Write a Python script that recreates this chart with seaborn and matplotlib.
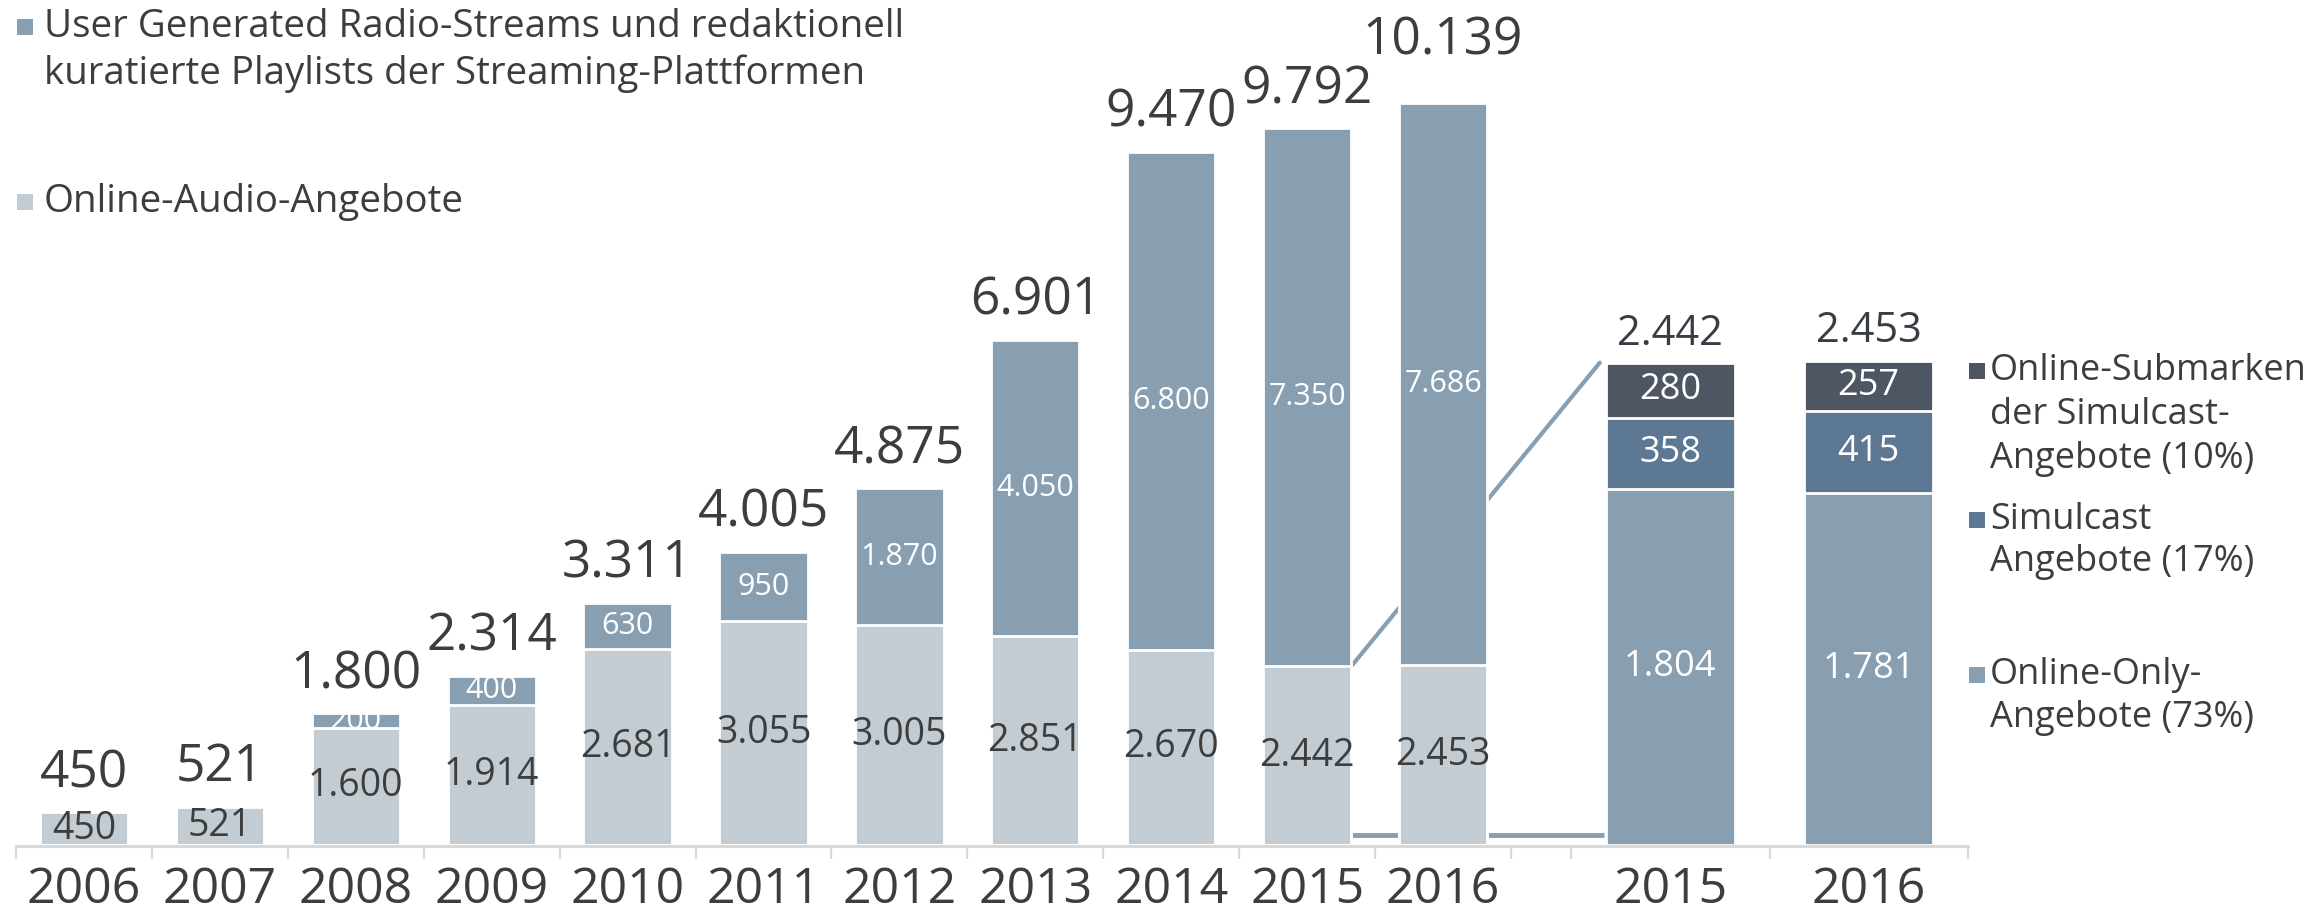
"""
plot.py - Online-Audio-Angebote und Streams 2006-2016 mit Detailaufschluesselung 2015/2016.
"""

import pandas as pd
import seaborn as sns
import matplotlib.pyplot as plt
from matplotlib.lines import Line2D
from matplotlib.patches import Rectangle

# --- data -----------------------------------------------------------------
years = ["2006", "2007", "2008", "2009", "2010", "2011",
         "2012", "2013", "2014", "2015", "2016"]
online_audio = [450, 521, 1600, 1914, 2681, 3055, 3005, 2851, 2670, 2442, 2453]
ugc_streams = [0, 0, 200, 400, 630, 950, 1870, 4050, 6800, 7350, 7686]

detail_years = ["2015", "2016"]
online_only = [1804, 1781]
simulcast = [358, 415]
submarken = [280, 257]

legend_left = ["User Generated Radio-Streams und redaktionell\nkuratierte Playlists der Streaming-Plattformen",
               "Online-Audio-Angebote"]
legend_right = ["Online-Submarken\nder Simulcast-\nAngebote (10%)",
                "Simulcast\nAngebote (17%)",
                "Online-Only-\nAngebote (73%)"]

# --- style ----------------------------------------------------------------
C_LIGHT = "#c3ccd2"
C_UGC = "#879fb1"
C_SIM = "#5c7893"
C_SUB = "#4e5663"
C_TEXT = "#3d3d3d"
C_TOTAL = "#383d45"
C_AXIS = "#d9d9d9"

sns.set_style("white")
plt.rcParams["font.family"] = ["Open Sans", "DejaVu Sans"]

W, H = 2311, 914
BASE = 845          # baseline in pixels from top
BAR_W = 0.65


def de(n):
    return f"{n:,}".replace(",", ".")


def fx(px):
    return px / W


def fy(py):
    return 1 - py / H


fig = plt.figure(figsize=(W / 100, H / 100), dpi=100)
ax1 = fig.add_axes([fx(16), fy(BASE), 1495 / W, BASE / H])
ax2 = fig.add_axes([fx(1571), fy(BASE), 397 / W, BASE / H])
for ax in (ax1, ax2):
    ax.set_facecolor("none")

left = pd.DataFrame({"year": years, "light": online_audio, "ugc": ugc_streams})
left["total"] = left["light"] + left["ugc"]

right = pd.DataFrame({"year": detail_years, "only": online_only,
                      "sim": simulcast, "sub": submarken})
right["mid"] = right["only"] + right["sim"]
right["total"] = right["mid"] + right["sub"]

bar_kw = dict(saturation=1, width=BAR_W, edgecolor="white", linewidth=2)

# left stacked bars (layered)
sns.barplot(data=left, x="year", y="total", color=C_UGC, ax=ax1, **bar_kw)
sns.barplot(data=left, x="year", y="light", color=C_LIGHT, ax=ax1, **bar_kw)

# right detail bars
sns.barplot(data=right, x="year", y="total", color=C_SUB, ax=ax2, **bar_kw)
sns.barplot(data=right, x="year", y="mid", color=C_SIM, ax=ax2, **bar_kw)
sns.barplot(data=right, x="year", y="only", color=C_UGC, ax=ax2, **bar_kw)

ax1.set_xlim(-0.5, len(years) - 0.5)
ax1.set_ylim(0, BASE / 0.0732)
ax2.set_xlim(-0.5, len(detail_years) - 0.5)
ax2.set_ylim(0, BASE / 0.1975)

# labels left
for i, row in left.iterrows():
    ax1.text(i, row["light"] / 2, de(row["light"]), ha="center", va="center",
             fontsize=27, color=C_TEXT)
    if row["ugc"] > 0:
        ax1.text(i, row["light"] + row["ugc"] / 2, de(row["ugc"]), ha="center",
                 va="center", fontsize=22, color="white")
    lift = 35 if i == len(left) - 1 else 18
    ax1.annotate(de(row["total"]), (i, row["total"]), xytext=(0, lift),
                 textcoords="offset points", ha="center", va="baseline",
                 fontsize=37, color=C_TEXT)

# labels right
for i, row in right.iterrows():
    ax2.text(i, row["only"] / 2, de(row["only"]), ha="center", va="center",
             fontsize=26, color="white")
    ax2.text(i, row["only"] + row["sim"] / 2, de(row["sim"]), ha="center",
             va="center", fontsize=26, color="white")
    ax2.text(i, row["mid"] + row["sub"] / 2, de(row["sub"]), ha="center",
             va="center", fontsize=26, color="white")
    ax2.annotate(de(row["total"]), (i, row["total"]), xytext=(0, 13),
                 textcoords="offset points", ha="center", va="baseline",
                 fontsize=30, color=C_TOTAL)


# connector lines (drawn behind the bars of ax1)
def to_ax1(x, y):
    return ax1.transData.inverted().transform(ax2.transData.transform((x, y)))


src = years.index("2015")
x0 = src + BAR_W / 2
xe, ye = to_ax1(-BAR_W / 2 - 0.03, right["total"][0])
ax1.plot([x0, xe], [online_audio[src], ye], color=C_UGC, lw=3,
         zorder=0.5, clip_on=False)
xb, _ = to_ax1(-BAR_W / 2 - 0.01, 0)
ax1.plot([x0, xb], [140, 140], color=C_UGC, lw=3.5, zorder=0.5,
         clip_on=False, solid_capstyle="butt")

# axes cosmetics
for ax, n in ((ax1, len(years)), (ax2, len(detail_years))):
    for s in ax.spines.values():
        s.set_visible(False)
    ax.set_xlabel("")
    ax.set_ylabel("")
    ax.set_yticks([])
    ax.set_xticks([b - 0.5 for b in range(n + 1)], minor=True)
    ax.tick_params(axis="x", which="minor", bottom=True, length=10, width=1.6,
                   color=C_AXIS, direction="out")
    ax.tick_params(axis="x", which="major", length=0, pad=15,
                   labelsize=36, labelcolor=C_TEXT)

fig.add_artist(Line2D([fx(16), fx(1968)], [fy(BASE + 1), fy(BASE + 1)],
                      transform=fig.transFigure, color=C_AXIS, lw=2.2))


# legends
def legend_entry(x_sq, y_center, color, text, size, x_txt, line_px):
    fig.add_artist(Rectangle((fx(x_sq), fy(y_center + 8)), 16 / W, 16 / H,
                             transform=fig.transFigure, color=color, lw=0))
    for k, line in enumerate(text.split("\n")):
        fig.text(fx(x_txt), fy(y_center + k * line_px), line, ha="left",
                 va="center", fontsize=size, color=C_TEXT)


legend_entry(17, 27, C_UGC, legend_left[0], 27.7, 44, 47)
legend_entry(17, 202, C_LIGHT, legend_left[1], 27.7, 44, 47)

legend_entry(1969, 371, C_SUB, legend_right[0], 26, 1990, 44)
legend_entry(1969, 520, C_SIM, legend_right[1], 26, 1990, 42)
legend_entry(1969, 675, C_UGC, legend_right[2], 26, 1990, 43)

fig.savefig("out.png", dpi=100)
